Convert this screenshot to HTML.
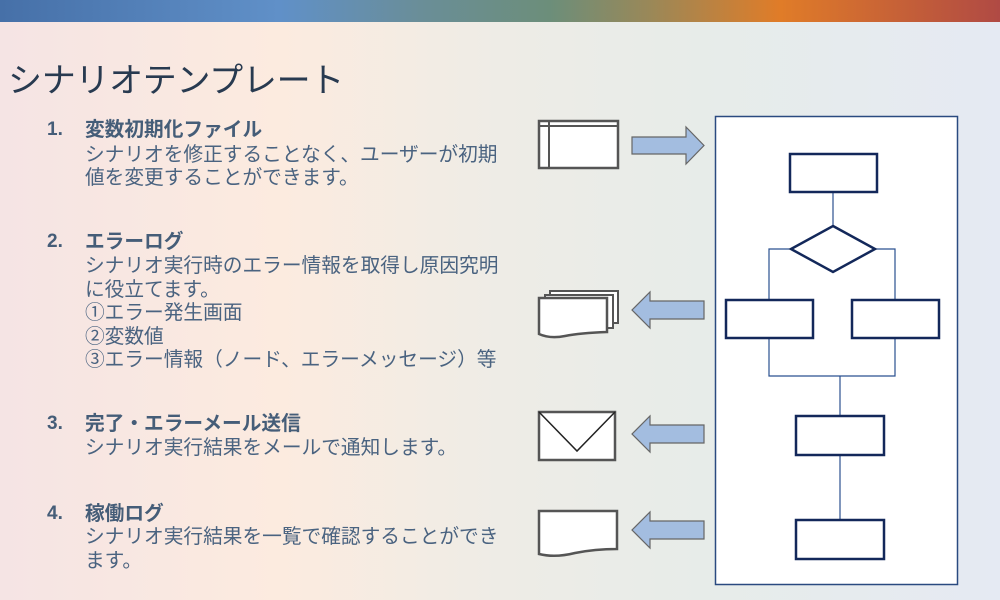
<!DOCTYPE html>
<html><head><meta charset="utf-8"><style>
*{margin:0;padding:0;box-sizing:border-box}
body{width:1000px;height:600px;overflow:hidden;position:relative;
background:linear-gradient(90deg,#f5e4e4 0%,#fcebdf 28%,#eeece6 50%,#e7ece9 70%,#e5eaf3 100%);
font-family:"Liberation Sans","Noto Sans CJK JP",sans-serif}
.bar{position:absolute;left:0;top:0;width:1000px;height:22px;
background:linear-gradient(90deg,#4670a8 0%,#6090c8 28%,#6a8e98 42%,#6c8e7a 55%,#9a8858 65%,#e07c28 78%,#b04a44 100%)}
.title{position:absolute;left:8px;top:53px;font-size:34px;color:#283a50;letter-spacing:-0.3px}
.t{position:absolute;font-size:19.7px;color:#4a6380;white-space:nowrap;line-height:24px}
.h{font-weight:bold;color:#455d78}
.n{position:absolute;left:47px;font-weight:bold;color:#455d78;font-size:19px;line-height:24px}
</style></head><body>
<div class="bar"></div>
<div class="title">シナリオテンプレート</div>

<div class="n" style="top:118px">1.</div>
<div class="t h" style="left:85px;top:118px">変数初期化ファイル</div>
<div class="t" style="left:85px;top:143px">シナリオを修正することなく、ユーザーが初期</div>
<div class="t" style="left:85px;top:166px">値を変更することができます。</div>

<div class="n" style="top:230px">2.</div>
<div class="t h" style="left:85px;top:230px">エラーログ</div>
<div class="t" style="left:85px;top:254px">シナリオ実行時のエラー情報を取得し原因究明</div>
<div class="t" style="left:85px;top:278px">に役立てます。</div>
<div class="t" style="left:85px;top:301px">①エラー発生画面</div>
<div class="t" style="left:85px;top:325px">②変数値</div>
<div class="t" style="left:85px;top:348px">③エラー情報（ノード、エラーメッセージ）等</div>

<div class="n" style="top:412px">3.</div>
<div class="t h" style="left:85px;top:412px">完了・エラーメール送信</div>
<div class="t" style="left:85px;top:436px">シナリオ実行結果をメールで通知します。</div>

<div class="n" style="top:502px">4.</div>
<div class="t h" style="left:85px;top:502px">稼働ログ</div>
<div class="t" style="left:85px;top:525px">シナリオ実行結果を一覧で確認することができ</div>
<div class="t" style="left:85px;top:549px">ます。</div>

<svg style="position:absolute;left:0;top:0" width="1000" height="600">
<g stroke="#555" stroke-width="2.5" fill="#fff">
<rect x="539" y="121" width="79" height="47"/>
<line x1="539" y1="126" x2="618" y2="126" stroke-width="2"/>
<line x1="549" y1="121" x2="549" y2="168" stroke-width="2"/>
<path d="M550 291 L618 291 L618 323 L550 323Z" stroke-width="2"/>
<path d="M545 295 L613 295 L613 328 L545 328Z" stroke-width="2"/>
<path d="M539 298 L607 298 L607 332 Q580 333 565 336 Q550 339 539 334Z"/>
<rect x="539" y="412" width="76" height="48"/>
<path d="M539 412 L577 451 L615 412" fill="none" stroke="#222" stroke-width="1.5"/>
<path d="M539 511 L617 511 L617 549 Q595 549 575 553 Q555 558 539 554Z"/>
</g>
<g fill="#a3bde0" stroke="#666" stroke-width="1.2">
<path d="M632 137 L686 137 L686 127 L704 145.5 L686 164 L686 154 L632 154Z"/>
<path d="M704 301 L650 301 L650 292 L632 310 L650 328 L650 319 L704 319Z"/>
<path d="M704 425 L650 425 L650 416 L632 434 L650 452 L650 443 L704 443Z"/>
<path d="M704 521 L650 521 L650 512 L632 530 L650 548 L650 539 L704 539Z"/>
</g>
<rect x="715.5" y="116.5" width="242" height="468" fill="#fff" stroke="#2a4a80" stroke-width="1.5"/>
<g stroke="#2a5090" stroke-width="1.2" fill="none">
<line x1="833" y1="192" x2="833" y2="226"/>
<path d="M791 249 L769 249 L769 300"/>
<path d="M875 249 L895 249 L895 300"/>
<path d="M769 338 L769 376 L895 376 L895 338"/>
<line x1="840" y1="376" x2="840" y2="416"/>
<line x1="840" y1="455" x2="840" y2="520"/>
</g>
<g stroke="#13285a" stroke-width="2.5" fill="#fff">
<rect x="790" y="154" width="87" height="38"/>
<path d="M833 226 L875 249 L833 272 L791 249Z"/>
<rect x="726" y="300" width="87" height="38"/>
<rect x="852" y="300" width="87" height="38"/>
<rect x="796" y="416" width="88" height="39"/>
<rect x="796" y="520" width="88" height="39"/>
</g>
</svg>
</body></html>
